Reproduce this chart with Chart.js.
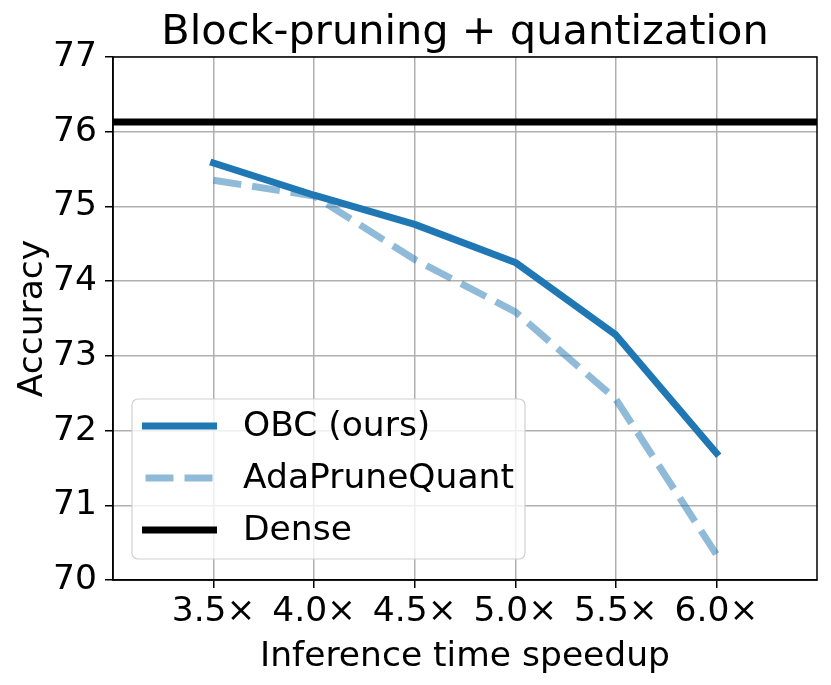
<!DOCTYPE html>
<html><head><meta charset="utf-8">
<script src="https://cdn.jsdelivr.net/npm/chart.js@4"></script>
<style>html,body{margin:0;padding:0;background:#fff}#wrap{width:831px;height:685px}</style>
</head><body><div id="wrap"><canvas id="c" width="831" height="685"></canvas></div>
<script>
const speedups = [3.5, 4.0, 4.5, 5.0, 5.5, 6.0];
const obc = [75.58, 75.15, 74.76, 74.25, 73.28, 71.70];
const adaPruneQuant = [75.35, 75.14, 74.29, 73.59, 72.42, 70.34];
const denseAcc = 76.13;
const xRange = [3.0, 6.5];
const xTickValues = [3.5, 4.0, 4.5, 5.0, 5.5, 6.0];
const xTickLabels = ['3.5×', '4.0×', '4.5×', '5.0×', '5.5×', '6.0×'];
const yTickValues = [70, 71, 72, 73, 74, 75, 76, 77];
const chartTitle = 'Block-pruning + quantization';

const FONT = "'DejaVu Sans', sans-serif";
const FS = 34.5;
Chart.defaults.font.family = FONT;
Chart.defaults.color = '#000';

const spinesAndLegend = {
  id: 'spinesAndLegend',
  afterDatasetsDraw(chart) {
    const ctx = chart.ctx, a = chart.chartArea;
    ctx.save();
    ctx.strokeStyle = '#000';
    ctx.lineWidth = 1.5;
    ctx.strokeRect(a.left, a.top, a.right - a.left, a.bottom - a.top);
    // legend
    const bx = 132, by = 399, bw = 393, bh = 160, r = 6;
    ctx.globalAlpha = 0.8;
    ctx.fillStyle = '#fff';
    ctx.beginPath();
    ctx.roundRect(bx, by, bw, bh, r);
    ctx.fill();
    ctx.globalAlpha = 1;
    ctx.strokeStyle = '#d0d0d0';
    ctx.lineWidth = 1.2;
    ctx.stroke();
    const rows = [426, 478, 530];
    chart.data.datasets.forEach((ds, i) => {
      const y = rows[i];
      ctx.strokeStyle = ds.borderColor;
      ctx.lineWidth = ds.borderWidth;
      ctx.setLineDash(ds.borderDash || []);
      ctx.lineCap = ds.borderDash ? 'butt' : 'square';
      ctx.beginPath();
      ctx.moveTo(145.5, y);
      ctx.lineTo(213.5, y);
      ctx.stroke();
      ctx.setLineDash([]);
      ctx.fillStyle = '#000';
      ctx.font = FS + "px " + FONT;
      ctx.textBaseline = 'middle';
      ctx.textAlign = 'left';
      ctx.fillText(ds.label, 243, y + 1);
    });
    // title centered over plot area
    ctx.font = "41.5px " + FONT;
    ctx.textAlign = 'center';
    ctx.textBaseline = 'middle';
    ctx.fillText(chartTitle, (a.left + a.right) / 2, 33);
    ctx.restore();
  }
};

new Chart(document.getElementById('c'), {
  type: 'scatter',
  data: {
    datasets: [
      {
        label: 'OBC (ours)',
        data: speedups.map((x, i) => ({x, y: obc[i]})),
        showLine: true, borderColor: '#1f77b4', borderWidth: 7,
        pointRadius: 0, pointHoverRadius: 0, borderJoinStyle: 'round', borderCapStyle: 'square'
      },
      {
        label: 'AdaPruneQuant',
        data: speedups.map((x, i) => ({x, y: adaPruneQuant[i]})),
        showLine: true, borderColor: 'rgba(31,119,180,0.5)', borderWidth: 7, borderDash: [28, 11],
        pointRadius: 0, pointHoverRadius: 0, borderJoinStyle: 'round', borderCapStyle: 'butt'
      },
      {
        label: 'Dense',
        data: xRange.map(x => ({x, y: denseAcc})),
        showLine: true, borderColor: '#000', borderWidth: 7,
        pointRadius: 0, pointHoverRadius: 0
      }
    ]
  },
  options: {
    responsive: false,
    animation: false,
    devicePixelRatio: 1,
    layout: { padding: { left: 0, right: 14, top: 57, bottom: 0 } },
    plugins: {
      legend: { display: false },
      tooltip: { enabled: false },
      title: { display: false }
    },
    scales: {
      x: {
        type: 'linear', min: xRange[0], max: xRange[1],
        afterBuildTicks(s) { s.ticks = xTickValues.map(v => ({ value: v })); },
        afterFit(s) { s.height = 105; },
        ticks: {
          font: { size: FS, family: FONT }, color: '#000', maxRotation: 0, autoSkip: false, padding: 3,
          callback(v) { const i = xTickValues.indexOf(v); return i >= 0 ? xTickLabels[i] : ''; }
        },
        grid: { color: '#b0b0b0', lineWidth: 1.5, tickLength: 8, tickColor: '#000', tickWidth: 1.5 },
        border: { display: true, color: '#000', width: 1.5 },
        title: { display: true, text: 'Inference time speedup', font: { size: FS, family: FONT }, color: '#000', padding: { top: 0, bottom: 7 } }
      },
      y: {
        min: 70, max: 77,
        afterBuildTicks(s) { s.ticks = yTickValues.map(v => ({ value: v })); },
        afterFit(s) { s.width = 113; },
        ticks: { font: { size: FS, family: FONT }, color: '#000', padding: 8 },
        grid: { color: '#b0b0b0', lineWidth: 1.5, tickLength: 8, tickColor: '#000', tickWidth: 1.5 },
        border: { display: true, color: '#000', width: 1.5 },
        title: { display: true, text: 'Accuracy', font: { size: FS, family: FONT }, color: '#000', padding: { top: 12, bottom: 0 } }
      }
    }
  },
  plugins: [spinesAndLegend]
});
</script>
</body></html>
